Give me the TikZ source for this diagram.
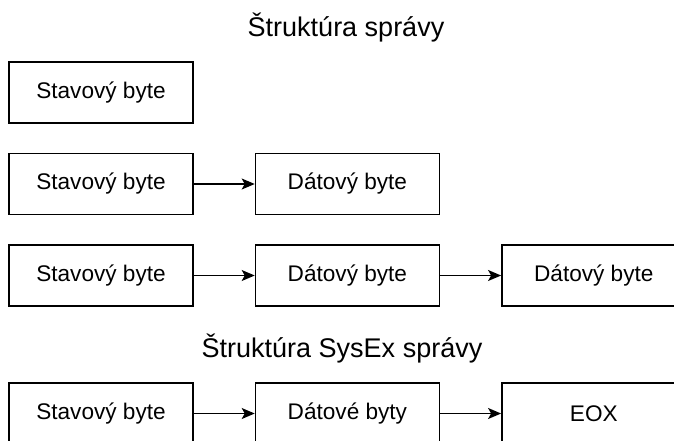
\documentclass[tikz,border=0pt]{standalone}
\usepackage{fontspec}
\setmainfont{Liberation Sans}
\usetikzlibrary{arrows.meta,positioning}

\begin{document}
\begin{tikzpicture}[
  x=1pt,y=-1pt,
  msgbyte/.style={rectangle,draw=black,fill=white,line width=1.4pt,align=center,minimum width=184pt,minimum height=61pt,inner sep=0pt,font=\fontsize{22.6}{27}\selectfont},
  heading/.style={anchor=base,inner sep=0pt,font=\fontsize{27}{32}\selectfont},
  arrow/.style={-{Stealth[length=13pt,width=11pt,inset=3pt]},draw=black,line width=1.4pt}
]
\useasboundingbox (0,0) rectangle (674,441);
% plain messages
\node[heading] (title) at (346,37) {Štruktúra správy};
\node[msgbyte] (statusA) at (101,92.5) {Stavový byte};
\node[msgbyte] (statusB) at (101,184) {Stavový byte};
\node[msgbyte,right=61pt of statusB] (dataB) {Dátový byte};
\node[msgbyte] (statusC) at (101,275.5) {Stavový byte};
\node[msgbyte,right=61pt of statusC] (dataC1) {Dátový byte};
\node[msgbyte,right=61pt of dataC1] (dataC2) {Dátový byte};
% system exclusive
\node[heading] (sysextitle) at (342,357) {Štruktúra SysEx správy};
\node[msgbyte] (statusD) at (101,413.5) {Stavový byte};
\node[msgbyte,right=61pt of statusD] (dataD) {Dátové byty};
\node[msgbyte,right=61pt of dataD] (eox) {EOX};
\draw[arrow] (statusB) -- (dataB);
\draw[arrow] (statusC) -- (dataC1);
\draw[arrow] (dataC1) -- (dataC2);
\draw[arrow] (statusD) -- (dataD);
\draw[arrow] (dataD) -- (eox);
\end{tikzpicture}
\end{document}
